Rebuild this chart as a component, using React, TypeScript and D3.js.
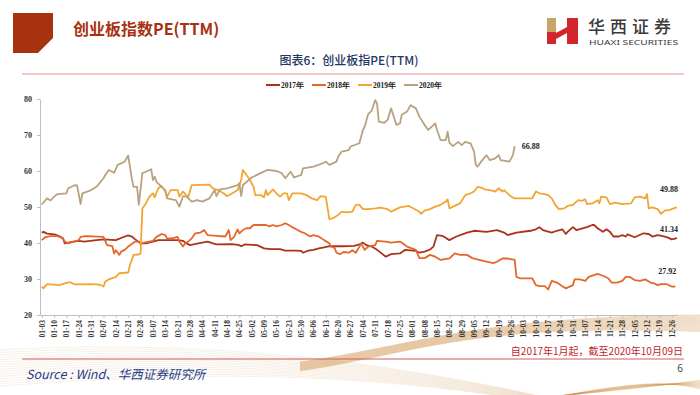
import { useRef, useEffect } from 'react';
import * as d3 from 'd3';

const seriesNames = ['2017年', '2018年', '2019年', '2020年'];
const seriesColors = ['#A9331B', '#E5672B', '#F2A631', '#B8A27F'];
const yTickValues = [20, 30, 40, 50, 60, 70, 80];
const xTickLabels = [
  '01-03', '01-10', '01-17', '01-24', '01-31', '02-07', '02-14', '02-21', '02-28',
  '03-07', '03-14', '03-21', '03-28', '04-04', '04-11', '04-18', '04-25',
  '05-02', '05-09', '05-16', '05-23', '05-30', '06-06', '06-13', '06-20', '06-27',
  '07-04', '07-11', '07-18', '07-25', '08-01', '08-08', '08-15', '08-22', '08-29',
  '09-05', '09-12', '09-19', '09-26', '10-03', '10-10', '10-17', '10-24', '10-31',
  '11-07', '11-14', '11-21', '11-28', '12-05', '12-12', '12-19', '12-26',
];

type Pt = [string, number];

const pe2017: Pt[] = [
  ['01-03', 42.9], ['01-04', 43.1], ['01-06', 42.6], ['01-10', 42.4], ['01-13', 41.9], ['01-15', 41.3],
  ['01-16', 39.9], ['01-21', 40.4], ['01-24', 40.6], ['01-27', 40.4], ['02-03', 40.8], ['02-07', 41.0],
  ['02-14', 40.8], ['02-18', 41.6], ['02-21', 42.1], ['02-23', 41.8], ['02-25', 41.0], ['02-28', 39.9],
  ['03-03', 39.9], ['03-07', 40.4], ['03-10', 40.8], ['03-21', 40.8], ['03-24', 40.6], ['03-26', 39.9],
  ['03-28', 39.4], ['04-01', 39.8], ['04-07', 40.4], ['04-10', 39.9], ['04-12', 39.6], ['04-21', 39.7],
  ['04-25', 39.4], ['04-26', 39.1], ['04-28', 39.6], ['05-05', 39.4], ['05-09', 38.5], ['05-13', 38.3],
  ['05-18', 38.3], ['05-21', 37.9], ['05-27', 37.9], ['05-30', 37.8], ['05-31', 37.3], ['06-03', 37.9],
  ['06-06', 38.1], ['06-09', 38.5], ['06-12', 38.8], ['06-15', 39.1], ['06-23', 39.1], ['06-29', 39.2],
  ['07-02', 39.6], ['07-04', 40.1], ['07-06', 39.4], ['07-09', 39.0], ['07-12', 38.1], ['07-17', 36.2],
  ['07-20', 36.9], ['07-25', 37.1], ['07-28', 38.1], ['08-03', 37.8], ['08-05', 37.3], ['08-08', 37.6],
  ['08-11', 38.2], ['08-13', 39.0], ['08-15', 42.2], ['08-18', 42.0], ['08-22', 40.8], ['08-26', 41.8],
  ['09-01', 42.9], ['09-05', 43.4], ['09-12', 43.1], ['09-18', 43.6], ['09-22', 42.9], ['09-24', 42.2],
  ['09-29', 42.9], ['10-07', 43.4], ['10-10', 43.8], ['10-12', 44.4], ['10-14', 43.6], ['10-19', 42.9],
  ['10-22', 43.4], ['10-25', 43.8], ['10-27', 42.5], ['10-28', 43.1], ['10-31', 44.4], ['11-02', 43.6],
  ['11-08', 44.4], ['11-11', 45.0], ['11-12', 45.0], ['11-14', 44.1], ['11-17', 43.1], ['11-19', 43.8],
  ['11-21', 43.1], ['11-23', 41.8], ['11-26', 41.8], ['11-28', 42.2], ['11-30', 41.8], ['12-01', 42.4],
  ['12-05', 41.6], ['12-10', 42.7], ['12-13', 42.5], ['12-15', 41.8], ['12-18', 42.2], ['12-21', 41.9],
  ['12-24', 41.5], ['12-26', 41.0], ['12-29', 41.34],
];

const pe2018: Pt[] = [
  ['01-03', 40.8], ['01-05', 41.6], ['01-08', 41.9], ['01-12', 41.9], ['01-15', 41.3], ['01-16', 40.4],
  ['01-18', 39.9], ['01-24', 40.8], ['01-25', 41.7], ['01-28', 41.9], ['02-07', 41.7], ['02-09', 39.4],
  ['02-12', 39.1], ['02-13', 37.1], ['02-14', 38.0], ['02-16', 36.7], ['02-17', 37.6], ['02-19', 38.1],
  ['02-21', 39.0], ['02-25', 40.4], ['02-27', 40.4], ['02-28', 39.7], ['03-02', 40.1], ['03-07', 40.6],
  ['03-09', 41.7], ['03-12', 42.5], ['03-14', 42.2], ['03-15', 41.3], ['03-18', 41.3], ['03-21', 41.7],
  ['03-22', 40.4], ['03-24', 39.0], ['03-25', 39.7], ['03-27', 40.4], ['03-29', 41.3], ['03-31', 42.7],
  ['04-03', 42.9], ['04-05', 43.6], ['04-07', 42.2], ['04-12', 42.0], ['04-17', 41.8], ['04-19', 43.6],
  ['04-20', 40.8], ['04-22', 41.7], ['04-24', 43.8], ['04-25', 42.7], ['04-27', 43.6], ['04-29', 44.1],
  ['05-01', 44.1], ['05-03', 45.0], ['05-10', 45.0], ['05-12', 44.6], ['05-14', 45.0], ['05-16', 44.6],
  ['05-19', 45.0], ['05-21', 45.5], ['05-23', 45.0], ['05-25', 44.4], ['05-28', 43.6], ['05-30', 43.1],
  ['06-01', 42.7], ['06-04', 41.8], ['06-06', 42.2], ['06-09', 41.8], ['06-12', 40.8], ['06-15', 39.9],
  ['06-16', 39.0], ['06-18', 38.6], ['06-19', 37.3], ['06-21', 36.9], ['06-23', 37.5], ['06-26', 37.3],
  ['06-28', 38.0], ['06-30', 37.3], ['07-02', 39.0], ['07-03', 39.9], ['07-05', 38.1], ['07-07', 39.0],
  ['07-11', 39.4], ['07-12', 40.6], ['07-17', 40.4], ['07-20', 40.1], ['07-25', 40.4], ['07-29', 39.0],
  ['08-03', 38.1], ['08-05', 35.8], ['08-08', 35.8], ['08-11', 36.7], ['08-14', 36.2], ['08-17', 35.3],
  ['08-22', 35.7], ['08-25', 37.1], ['08-28', 36.7], ['09-01', 36.7], ['09-04', 35.8], ['09-08', 35.3],
  ['09-12', 34.8], ['09-16', 34.4], ['09-18', 34.8], ['09-21', 35.7], ['09-24', 35.7], ['09-28', 35.3],
  ['09-29', 30.6], ['10-01', 30.2], ['10-08', 30.2], ['10-10', 28.3], ['10-12', 28.0], ['10-15', 28.0],
  ['10-17', 27.1], ['10-19', 29.5], ['10-22', 29.0], ['10-25', 28.0], ['10-27', 27.4], ['10-31', 28.3],
  ['11-01', 29.9], ['11-04', 29.9], ['11-07', 29.5], ['11-09', 30.6], ['11-12', 31.1], ['11-14', 31.4],
  ['11-17', 30.9], ['11-20', 30.2], ['11-22', 29.0], ['11-25', 29.0], ['11-28', 29.5], ['11-30', 30.6],
  ['12-02', 30.6], ['12-05', 29.7], ['12-08', 29.5], ['12-11', 29.9], ['12-14', 29.0], ['12-16', 28.8],
  ['12-18', 28.3], ['12-20', 28.6], ['12-23', 28.6], ['12-26', 27.9], ['12-28', 27.92],
];

const pe2019: Pt[] = [
  ['01-03', 27.9], ['01-04', 27.4], ['01-06', 28.6], ['01-13', 28.3], ['01-16', 28.8], ['01-19', 29.1],
  ['01-22', 28.5], ['01-31', 28.6], ['02-03', 28.5], ['02-05', 28.4], ['02-07', 27.9], ['02-08', 29.3],
  ['02-10', 29.9], ['02-14', 30.6], ['02-16', 31.6], ['02-21', 31.8], ['02-22', 33.9], ['02-24', 36.7],
  ['02-27', 36.8], ['02-28', 37.1], ['03-01', 49.6], ['03-03', 51.0], ['03-05', 52.9], ['03-07', 53.8],
  ['03-08', 52.7], ['03-10', 55.2], ['03-12', 55.8], ['03-14', 54.3], ['03-15', 52.9], ['03-17', 54.7],
  ['03-21', 54.7], ['03-22', 52.9], ['03-24', 54.3], ['03-25', 53.8], ['03-27', 52.7], ['03-29', 56.1],
  ['04-08', 56.2], ['04-10', 55.2], ['04-13', 54.7], ['04-16', 53.8], ['04-18', 53.0], ['04-21', 53.8],
  ['04-24', 54.7], ['04-26', 57.5], ['04-27', 60.3], ['04-29', 58.9], ['05-01', 57.5], ['05-03', 55.6],
  ['05-04', 53.3], ['05-07', 53.3], ['05-09', 52.7], ['05-10', 54.7], ['05-11', 53.3], ['05-14', 54.9],
  ['05-16', 53.8], ['05-18', 52.9], ['05-20', 53.8], ['05-22', 53.8], ['05-23', 51.9], ['05-25', 53.8],
  ['05-30', 53.8], ['06-02', 53.3], ['06-05', 52.4], ['06-08', 51.9], ['06-10', 53.0], ['06-13', 52.8],
  ['06-15', 46.6], ['06-17', 46.9], ['06-20', 47.8], ['06-22', 48.7], ['06-25', 48.5], ['06-28', 48.7],
  ['06-30', 50.6], ['07-02', 50.6], ['07-04', 49.4], ['07-07', 49.4], ['07-11', 49.6], ['07-14', 49.8],
  ['07-18', 49.4], ['07-20', 48.7], ['07-22', 49.2], ['07-25', 49.9], ['07-30', 50.3], ['08-02', 49.5],
  ['08-05', 48.7], ['08-06', 48.1], ['08-08', 49.0], ['08-11', 49.4], ['08-14', 50.1], ['08-17', 50.6],
  ['08-20', 51.5], ['08-21', 52.1], ['08-22', 49.6], ['08-24', 50.1], ['08-28', 51.0], ['08-31', 53.3],
  ['09-03', 53.8], ['09-05', 54.3], ['09-07', 55.6], ['09-09', 55.4], ['09-11', 54.9], ['09-14', 54.7],
  ['09-17', 54.3], ['09-19', 55.2], ['09-21', 54.3], ['09-22', 54.7], ['09-24', 53.8], ['09-26', 52.9],
  ['09-28', 52.4], ['10-04', 52.4], ['10-08', 52.4], ['10-10', 54.3], ['10-12', 53.8], ['10-15', 53.6],
  ['10-17', 53.3], ['10-19', 52.4], ['10-21', 50.6], ['10-23', 49.4], ['10-26', 49.6], ['10-28', 50.3],
  ['10-31', 50.6], ['11-03', 51.9], ['11-05', 51.7], ['11-07', 52.1], ['11-08', 50.8], ['11-11', 51.0],
  ['11-14', 51.9], ['11-15', 51.0], ['11-16', 52.9], ['11-19', 52.7], ['11-21', 50.8], ['11-24', 51.2],
  ['11-28', 50.8], ['12-03', 51.0], ['12-05', 52.7], ['12-08', 52.9], ['12-11', 52.4], ['12-12', 53.6],
  ['12-13', 49.6], ['12-15', 49.9], ['12-18', 49.4], ['12-20', 48.1], ['12-22', 49.0], ['12-25', 49.2],
  ['12-27', 49.6], ['12-29', 49.88],
];

const pe2020: Pt[] = [
  ['01-03', 50.7], ['01-06', 52.4], ['01-08', 51.8], ['01-10', 52.9], ['01-12', 53.6], ['01-17', 53.8],
  ['01-18', 55.2], ['01-22', 56.1], ['01-23', 56.0], ['01-25', 50.8], ['01-26', 53.8], ['01-31', 54.7],
  ['02-03', 55.6], ['02-07', 58.0], ['02-08', 58.9], ['02-10', 60.3], ['02-13', 59.5], ['02-15', 61.7],
  ['02-17', 62.1], ['02-19', 62.6], ['02-21', 64.3], ['02-23', 58.0], ['02-24', 55.6], ['02-26', 55.6],
  ['02-27', 50.6], ['03-01', 59.4], ['03-03', 59.8], ['03-06', 60.5], ['03-07', 57.5], ['03-08', 58.4],
  ['03-09', 57.0], ['03-12', 55.6], ['03-14', 54.7], ['03-15', 52.4], ['03-20', 51.9], ['03-22', 50.1],
  ['03-24', 53.0], ['03-26', 52.9], ['03-29', 51.5], ['04-01', 51.9], ['04-04', 51.5], ['04-08', 52.4],
  ['04-11', 54.7], ['04-12', 53.0], ['04-14', 54.9], ['04-18', 55.2], ['04-24', 56.1], ['04-25', 56.6],
  ['04-26', 53.0], ['04-27', 56.1], ['05-02', 58.2], ['05-07', 59.4], ['05-11', 60.3], ['05-16', 60.0],
  ['05-19', 59.4], ['05-21', 58.0], ['05-24', 59.8], ['05-26', 58.2], ['05-30', 58.9], ['05-31', 60.7],
  ['06-06', 61.2], ['06-12', 62.3], ['06-13', 62.6], ['06-15', 61.7], ['06-19', 62.6], ['06-20', 64.0],
  ['06-22', 65.4], ['06-26', 65.8], ['06-27', 66.8], ['07-02', 67.7], ['07-04', 71.4], ['07-05', 72.3],
  ['07-07', 75.8], ['07-09', 76.8], ['07-11', 79.7], ['07-12', 78.8], ['07-13', 73.7], ['07-16', 73.4],
  ['07-18', 74.2], ['07-20', 77.4], ['07-23', 72.8], ['07-25', 73.2], ['07-26', 75.6], ['07-29', 76.5],
  ['07-31', 78.3], ['08-03', 77.4], ['08-05', 75.1], ['08-08', 72.8], ['08-10', 71.4], ['08-14', 73.2],
  ['08-15', 71.4], ['08-17', 68.6], ['08-20', 68.6], ['08-21', 70.9], ['08-22', 67.9], ['08-24', 66.9],
  ['08-27', 68.1], ['08-29', 67.2], ['08-31', 68.1], ['09-03', 67.7], ['09-05', 65.4], ['09-06', 61.7],
  ['09-07', 61.2], ['09-09', 62.6], ['09-12', 64.4], ['09-14', 63.0], ['09-17', 63.5], ['09-19', 64.4],
  ['09-20', 63.0], ['09-25', 62.6], ['09-27', 64.4], ['09-28', 66.88],
];

const allSeries = [pe2017, pe2018, pe2019, pe2020];

const SERIF = "'Liberation Serif', 'Times New Roman', serif";
const CJK = "'Noto Sans CJK SC', 'Noto Sans', sans-serif";

export default function App() {
  const svgRef = useRef<SVGSVGElement>(null);

  useEffect(() => {
    if (!svgRef.current) return;
    const svg = d3.select(svgRef.current);
    svg.selectAll('*').remove();

    const parse = d3.timeParse('%m-%d');
    const x = d3.scaleTime()
      .domain([parse('01-02') as Date, parse('12-29') as Date])
      .range([40, 677]);
    const y = d3.scaleLinear().domain([20, 80]).range([315, 99]);

    svg.append('rect').attr('width', 700).attr('height', 395).attr('fill', '#fff');

    // decorative gold waves at the bottom
    const waves = svg.append('g').attr('fill', 'none').attr('stroke', '#C98B3C');
    for (let i = 0; i < 16; i++) {
      waves.append('path')
        .attr('d', `M300,${362 + i * 0.6} C420,${345 + i * 0.5} 470,${317 + i * 0.4} 700,${315 + i * 1.1}`)
        .attr('stroke-width', 0.6).attr('opacity', 0.5);
      waves.append('path')
        .attr('d', `M0,${350 + i * 2.4} C150,${342 + i * 2.2} 320,${348 + i * 1.2} 540,${396 + i * 0.4}`)
        .attr('stroke-width', 0.5).attr('opacity', 0.25);
      waves.append('path')
        .attr('d', `M560,396 C620,${390 - i * 0.3} 660,${386 - i * 0.5} 700,${380 + i * 0.6}`)
        .attr('stroke-width', 0.5).attr('opacity', 0.35);
    }

    // header
    svg.append('path').attr('d', 'M13,13 H53 V38 L38,53 H13 Z').attr('fill', '#A8320F');
    svg.append('text').attr('x', 73).attr('y', 35)
      .style('font-family', CJK).style('font-size', '16px').style('font-weight', 700)
      .attr('fill', '#A8320F').text('创业板指数PE(TTM)');

    // logo
    svg.append('rect').attr('x', 547).attr('y', 18).attr('width', 9).attr('height', 14).attr('fill', '#C9A467');
    svg.append('rect').attr('x', 547).attr('y', 32).attr('width', 9).attr('height', 12).attr('fill', '#D3262B');
    svg.append('path').attr('d', 'M556,33 L567,27 L567,33 L556,39 Z').attr('fill', '#D3262B');
    svg.append('path').attr('d', 'M567,18 H578 V44 H567 Z').attr('fill', '#D3262B');
    svg.append('text').attr('x', 588).attr('y', 33)
      .style('font-family', CJK).style('font-size', '17px').style('font-weight', 500)
      .style('letter-spacing', '5px').attr('fill', '#3A3A3A').text('华西证券');
    svg.append('text').attr('x', 589).attr('y', 45)
      .attr('textLength', 89).attr('lengthAdjust', 'spacingAndGlyphs')
      .style('font-family', "'Noto Sans', sans-serif").style('font-size', '7px')
      .attr('fill', '#3A3A3A').text('HUAXI SECURITIES');

    svg.append('text').attr('x', 349).attr('y', 65).attr('text-anchor', 'middle')
      .style('font-family', CJK).style('font-size', '12px').style('font-weight', 500)
      .attr('fill', '#1F3864').text('图表6：创业板指PE(TTM)');

    svg.append('line').attr('x1', 22).attr('x2', 684).attr('y1', 74).attr('y2', 74)
      .attr('stroke', '#F1B5B5').attr('stroke-width', 1.5);

    // legend
    const legend = svg.append('g');
    seriesNames.forEach((name, i) => {
      const lx = 266 + i * 46;
      legend.append('line').attr('x1', lx).attr('x2', lx + 14).attr('y1', 85).attr('y2', 85)
        .attr('stroke', seriesColors[i]).attr('stroke-width', 2);
      legend.append('text').attr('x', lx + 15).attr('y', 87.5)
        .style('font-family', SERIF).style('font-size', '7.5px').style('font-weight', 700)
        .attr('fill', '#222').text(name);
    });

    // axes
    const gx = svg.append('g').attr('transform', `translate(0,${y(20)})`)
      .call(d3.axisBottom(x)
        .tickValues(xTickLabels.map(d => parse(d) as Date))
        .tickFormat(d => d3.timeFormat('%m-%d')(d as Date))
        .tickSize(3).tickSizeOuter(0));
    gx.select('.domain').attr('stroke', '#BFBFBF');
    gx.selectAll('.tick line').attr('stroke', '#BFBFBF');
    gx.selectAll('.tick text')
      .attr('transform', 'rotate(-90)').attr('text-anchor', 'end')
      .attr('x', -5).attr('y', 0).attr('dy', '0.32em')
      .style('font-family', SERIF).style('font-size', '7.5px').style('font-weight', 700)
      .attr('fill', '#333');

    const gy = svg.append('g').attr('transform', 'translate(40,0)')
      .call(d3.axisLeft(y).tickValues(yTickValues).tickSize(3).tickSizeOuter(0).tickPadding(5));
    gy.select('.domain').attr('stroke', '#BFBFBF');
    gy.selectAll('.tick line').attr('stroke', '#BFBFBF');
    gy.selectAll('.tick text')
      .style('font-family', SERIF).style('font-size', '8px').style('font-weight', 700)
      .attr('fill', '#333');

    // lines
    const line = d3.line<Pt>()
      .x(d => x(parse(d[0]) as Date))
      .y(d => y(d[1]));

    allSeries.forEach((data, i) => {
      svg.append('path').datum(data)
        .attr('fill', 'none').attr('stroke', seriesColors[i])
        .attr('stroke-width', 1.8).attr('stroke-linejoin', 'round')
        .attr('d', line);
    });

    // end value labels
    const labelDy = [-6, -12, -15, 3];
    allSeries.forEach((data, i) => {
      const last = data[data.length - 1];
      const lx = x(parse(last[0]) as Date);
      const ly = y(last[1]);
      const isOpen = i === 3;
      svg.append('text')
        .attr('x', isOpen ? lx + 7 : lx + 1)
        .attr('y', ly + labelDy[i])
        .attr('text-anchor', isOpen ? 'start' : 'end')
        .style('font-family', SERIF).style('font-size', '8px').style('font-weight', 700)
        .attr('fill', '#222').text(last[1].toFixed(2));
    });

    // footer
    svg.append('text').attr('x', 683).attr('y', 355).attr('text-anchor', 'end')
      .style('font-family', CJK).style('font-size', '10px')
      .attr('fill', '#C0282A').text('自2017年1月起，截至2020年10月09日');
    svg.append('line').attr('x1', 22).attr('x2', 684).attr('y1', 359).attr('y2', 359)
      .attr('stroke', '#D25A5A').attr('stroke-width', 1);
    svg.append('text').attr('x', 26).attr('y', 379)
      .style('font-family', CJK).style('font-size', '12.5px').style('font-style', 'italic')
      .attr('fill', '#1F3C88').text('Source : Wind、华西证券研究所');
    svg.append('text').attr('x', 683).attr('y', 372).attr('text-anchor', 'end')
      .style('font-family', "'Noto Sans', sans-serif").style('font-size', '10px')
      .attr('fill', '#444').text('6');
  }, []);

  return (
    <svg ref={svgRef} width={700} height={395}
      style={{ position: 'absolute', left: 0, top: 0, background: '#fff' }} />
  );
}
